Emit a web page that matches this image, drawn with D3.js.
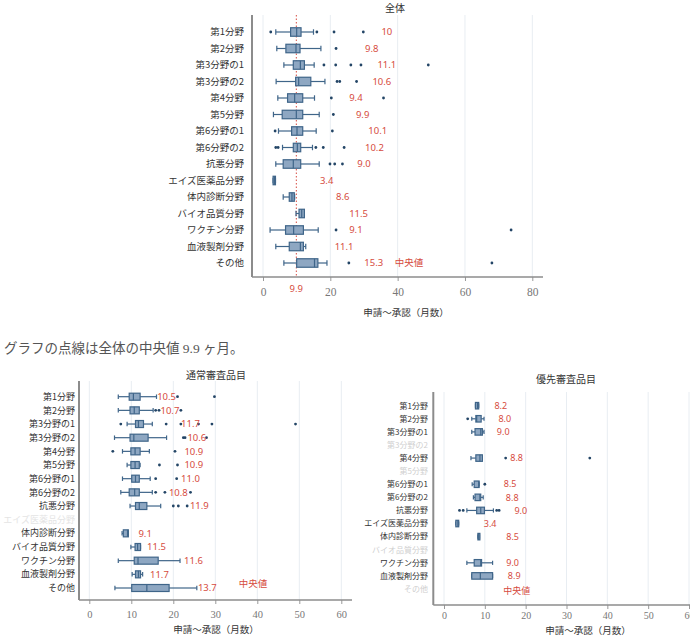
<!DOCTYPE html>
<html>
<head>
<meta charset="utf-8">
<script src="https://cdn.jsdelivr.net/npm/d3@7"></script>
<style>
  body { margin: 0; background: #fff; }
  svg { display: block; }
  .cat { font-family: "Noto Sans CJK JP", "Noto Sans", sans-serif; fill: #333; }
  .val { font-family: "Noto Sans", "Noto Sans CJK JP", sans-serif; fill: #d64b40; }
  .tick-label { font-family: "Liberation Serif", "DejaVu Serif", serif; fill: #777; }
  .ttl { font-family: "Noto Sans CJK JP", sans-serif; fill: #333; }
</style>
</head>
<body>
<svg id="chart" width="690" height="637"></svg>
<script>
const categories = ["第1分野", "第2分野", "第3分野の1", "第3分野の2", "第4分野", "第5分野",
  "第6分野の1", "第6分野の2", "抗悪分野", "エイズ医薬品分野", "体内診断分野",
  "バイオ品質分野", "ワクチン分野", "血液製剤分野", "その他"];

// 全体 (months); null = no data for that category
const allLow    = [3.8, 4.1, 6.2, 3.9, 4.4, 3.1, 4.6, 5.8, 3.8, 3.0, 6.0, 9.8, 2.1, 3.8, 6.2];
const allQ1     = [8.2, 6.8, 9.0, 9.7, 7.3, 5.7, 8.5, 9.0, 6.0, 3.0, 7.8, 10.7, 6.7, 7.8, 10.0];
const allMedian = [10, 9.8, 11.1, 10.6, 9.4, 9.9, 10.1, 10.2, 9.0, 3.4, 8.6, 11.5, 9.1, 11.1, 15.3];
const allQ3     = [11.3, 11.0, 12.3, 14.2, 11.8, 11.8, 11.8, 11.2, 11.2, 3.7, 9.3, 12.3, 12.0, 12.0, 16.3];
const allHigh   = [15.0, 17.2, 15.2, 18.4, 15.3, 16.7, 15.8, 14.7, 16.7, 3.7, 9.4, 12.3, 16.4, 12.7, 19.0];
const allOutliers = [[2.3, 16.0, 21.1, 29.8], [21.7], [18.1, 21.6, 26.1, 29.1, 49.1],
  [22.0, 22.8, 27.8], [20.3, 35.8], [20.9], [3.6, 20.6], [3.8, 4.5, 15.7, 17.9, 24.1],
  [19.9, 21.3, 23.6], [], [], [], [21.7, 73.7], [], [25.5, 68.0]];
const allLabels = ["10", "9.8", "11.1", "10.6", "9.4", "9.9", "10.1", "10.2", "9.0",
  "3.4", "8.6", "11.5", "9.1", "11.1", "15.3"];
const allOverallMedian = 9.9;

// 通常審査品目
const stdLow    = [6.9, 6.9, 9.0, 6.0, 7.9, 9.0, 7.9, 7.5, 9.7, null, 7.8, 9.9, 6.9, 10.2, 6.1];
const stdQ1     = [9.5, 9.7, 11.0, 9.7, 9.9, 9.9, 10.1, 9.5, 11.0, null, 8.1, 10.9, 10.7, 11.0, 10.1];
const stdMedian = [10.5, 10.7, 11.7, 10.6, 10.9, 10.9, 11.0, 10.8, 11.9, null, 9.1, 11.5, 11.6, 11.7, 13.7];
const stdQ3     = [12.1, 11.9, 12.9, 14.0, 12.1, 11.9, 11.9, 11.9, 13.7, null, 9.3, 12.2, 16.4, 12.2, 19.0];
const stdHigh   = [16.0, 15.2, 15.0, 18.4, 14.3, 12.1, 14.5, 15.0, 17.0, null, 9.3, 12.2, 21.6, 12.7, 25.6];
const stdOutliers = [[21.0, 29.8], [15.8, 16.6, 21.8], [7.5, 18.3, 21.8, 26.0, 29.2, 49.1],
  [22.4, 22.8, 27.9], [5.6, 20.4], [16.7, 21.0], [15.8, 20.8], [15.8, 18.0, 24.1],
  [20.0, 21.2, 23.3], [], [], [], [], [], []];
const stdLabels = ["10.5", "10.7", "11.7", "10.6", "10.9", "10.9", "11.0", "10.8", "11.9",
  null, "9.1", "11.5", "11.6", "11.7", "13.7"];

// 優先審査品目
const priLow    = [7.7, 6.8, 6.8, null, 6.6, null, 6.9, 7.2, 5.6, 2.9, 8.3, null, 5.6, 6.8, null];
const priQ1     = [7.7, 7.8, 7.6, null, 7.8, null, 7.4, 7.6, 8.0, 2.9, 8.3, null, 7.4, 6.8, null];
const priMedian = [8.2, 8.0, 9.0, null, 8.8, null, 8.5, 8.8, 9.0, 3.4, 8.5, null, 9.0, 8.9, null];
const priQ3     = [8.5, 9.1, 9.4, null, 9.4, null, 8.6, 9.0, 9.9, 3.6, 8.7, null, 9.2, 11.9, null];
const priHigh   = [8.5, 9.8, 9.8, null, 9.4, null, 8.6, 9.6, 12.1, 3.6, 8.7, null, 11.9, 11.9, null];
const priOutliers = [[], [5.8], [], [], [15.1, 35.7], [], [10.0], [], [3.8, 4.7, 12.9, 13.5],
  [], [], [], [], [], []];
const priLabels = ["8.2", "8.0", "9.0", null, "8.8", null, "8.5", "8.8", "9.0",
  "3.4", "8.5", null, "9.0", "8.9", null];

// where each median label sits along the x axis (in months)
const allLabelAt = [36.8, 32.3, 36.8, 35.3, 27.6, 29.6, 34.1, 33.1, 30.0, 18.9, 23.7, 28.4, 27.6, 24.1, 32.9];
const stdLabelAt = [18.4, 19.2, 24.1, 25.6, 24.9, 24.9, 24.1, 21.2, 26.2, null, 13.3, 16.0, 24.8, 16.7, 28.1];
const priLabelAt = [13.9, 14.9, 14.5, null, 17.8, null, 16.2, 16.7, 18.8, 11.3, 16.8, null, 16.8, 17.2, null];

const svg = d3.select("#chart");

function drawPanel(p) {
  const g = svg.append("g");
  const x = d3.scaleLinear().domain(p.domain).range(p.xRange);
  const y = d3.scalePoint().domain(categories).range(p.yRange);

  // grid
  g.selectAll(".grid")
    .data(p.ticks)
    .enter()
    .append("line")
    .attr("x1", (d) => x(d)).attr("x2", (d) => x(d))
    .attr("y1", p.top).attr("y2", p.axisY)
    .attr("stroke", "#e8edf2").attr("stroke-width", 1);

  // x axis
  const axis = g.append("g")
    .attr("transform", `translate(0,${p.axisY})`)
    .call(d3.axisBottom(x).tickValues(p.ticks).tickSize(4).tickPadding(p.tickPad));
  axis.select(".domain").remove();
  axis.selectAll(".tick line").attr("stroke", "#999");
  axis.selectAll(".tick text")
    .attr("class", "tick-label")
    .attr("font-size", p.tickFont)
    .style("font-family", '"Liberation Serif", "DejaVu Serif", serif')
    .attr("fill", "#777");

  g.append("line")
    .attr("x1", p.left).attr("x2", p.right)
    .attr("y1", p.axisY).attr("y2", p.axisY)
    .attr("stroke", "#8c8c8c").attr("stroke-width", 1.5);
  g.append("line")
    .attr("x1", p.left).attr("x2", p.left)
    .attr("y1", p.top).attr("y2", p.axisY)
    .attr("stroke", "#8c8c8c").attr("stroke-width", 2);

  // overall median reference
  if (p.refLine != null) {
    g.append("line")
      .attr("x1", x(p.refLine)).attr("x2", x(p.refLine))
      .attr("y1", p.top).attr("y2", p.axisY)
      .attr("stroke", "#d64b40").attr("stroke-width", 1)
      .attr("stroke-dasharray", "1.5,2");
    g.append("text")
      .attr("class", "val")
      .attr("x", x(p.refLine)).attr("y", p.axisY + 15)
      .attr("text-anchor", "middle")
      .attr("font-size", 9.5)
      .text(p.refLine);
  }

  // category labels
  g.selectAll(".cat")
    .data(categories)
    .enter()
    .append("text")
    .attr("class", "cat")
    .attr("x", p.labelX)
    .attr("y", (d) => y(d))
    .attr("dy", "0.35em")
    .attr("text-anchor", "end")
    .attr("font-size", p.catFont)
    .style("fill", (d, i) => (p.median[i] == null ? p.emptyColor : "#333"))
    .text((d) => d);

  const rows = categories
    .map((c, i) => ({
      c, lo: p.low[i], q1: p.q1[i], med: p.median[i], q3: p.q3[i], hi: p.high[i],
      out: p.outliers[i], label: p.labels[i], at: p.labelAt[i],
    }))
    .filter((r) => r.med != null);

  const bh = p.boxH;
  const row = g.selectAll(".row").data(rows).enter().append("g")
    .attr("transform", (r) => `translate(0,${y(r.c)})`);

  const stroke = "#3f6589";
  row.append("line")
    .attr("x1", (r) => x(r.lo)).attr("x2", (r) => x(r.q1))
    .attr("stroke", stroke).attr("stroke-width", 1.2);
  row.append("line")
    .attr("x1", (r) => x(r.q3)).attr("x2", (r) => x(r.hi))
    .attr("stroke", stroke).attr("stroke-width", 1.2);
  row.append("line")
    .attr("x1", (r) => x(r.lo)).attr("x2", (r) => x(r.lo))
    .attr("y1", -bh * 0.32).attr("y2", bh * 0.32)
    .attr("stroke", stroke).attr("stroke-width", 1.2);
  row.append("line")
    .attr("x1", (r) => x(r.hi)).attr("x2", (r) => x(r.hi))
    .attr("y1", -bh * 0.32).attr("y2", bh * 0.32)
    .attr("stroke", stroke).attr("stroke-width", 1.2);
  row.append("rect")
    .attr("x", (r) => x(r.q1))
    .attr("y", -bh / 2)
    .attr("width", (r) => Math.max(x(r.q3) - x(r.q1), 2))
    .attr("height", bh)
    .attr("fill", "#8ea7c2")
    .attr("stroke", stroke).attr("stroke-width", 1.2);
  row.append("line")
    .attr("x1", (r) => x(r.med)).attr("x2", (r) => x(r.med))
    .attr("y1", -bh / 2).attr("y2", bh / 2)
    .attr("stroke", stroke).attr("stroke-width", 1.2);
  row.selectAll("circle")
    .data((r) => r.out)
    .enter()
    .append("circle")
    .attr("cx", (d) => x(d)).attr("cy", 0)
    .attr("r", 1.4)
    .attr("fill", "#234566");
  row.append("text")
    .attr("class", "val")
    .attr("x", (r) => x(r.at))
    .attr("dy", "0.35em")
    .attr("text-anchor", "middle")
    .attr("font-size", p.valFont)
    .text((r) => r.label);

  // legend-like note
  g.append("text")
    .attr("class", "val")
    .attr("x", x(p.noteAt))
    .attr("y", y("その他") + p.noteDy)
    .attr("dy", "0.35em")
    .attr("text-anchor", "middle")
    .attr("font-size", p.valFont)
    .text("中央値");

  g.append("text")
    .attr("class", "ttl")
    .attr("x", p.titleX).attr("y", p.titleY)
    .attr("dy", "0.35em")
    .attr("text-anchor", "middle")
    .attr("font-size", p.titleFont)
    .text(p.title);

  g.append("text")
    .attr("class", "ttl")
    .attr("x", p.xTitleX).attr("y", p.xTitleY)
    .attr("dy", "0.35em")
    .attr("text-anchor", "middle")
    .attr("font-size", 9.5)
    .text("申請〜承認（月数）");
}

drawPanel({
  title: "全体", titleX: 395, titleY: 8, titleFont: 10,
  domain: [0, 80], xRange: [263, 532.3], ticks: [0, 20, 40, 60, 80],
  yRange: [32, 263], top: 15, axisY: 277, left: 252, right: 543,
  labelX: 244, catFont: 9.5, valFont: 9.5, tickFont: 11.5, tickPad: 7, boxH: 8.5,
  low: allLow, q1: allQ1, median: allMedian, q3: allQ3, high: allHigh,
  outliers: allOutliers, labels: allLabels, labelAt: allLabelAt,
  refLine: allOverallMedian, emptyColor: "#ddd",
  noteAt: 43.4, noteDy: 0, xTitleX: 406, xTitleY: 313,
});

drawPanel({
  title: "通常審査品目", titleX: 216, titleY: 375, titleFont: 10,
  domain: [0, 60], xRange: [89.3, 341.3], ticks: [0, 10, 20, 30, 40, 50, 60],
  yRange: [396.7, 588], top: 381, axisY: 600, left: 79, right: 352,
  labelX: 75, catFont: 9, valFont: 9.5, tickFont: 10.5, tickPad: 7, boxH: 7,
  low: stdLow, q1: stdQ1, median: stdMedian, q3: stdQ3, high: stdHigh,
  outliers: stdOutliers, labels: stdLabels, labelAt: stdLabelAt,
  refLine: null, emptyColor: "#e4e4e4",
  noteAt: 39.0, noteDy: -4, xTitleX: 216, xTitleY: 630,
});

drawPanel({
  title: "優先審査品目", titleX: 566, titleY: 379, titleFont: 10,
  domain: [0, 60], xRange: [444, 689], ticks: [0, 10, 20, 30, 40, 50, 60],
  yRange: [405.7, 589], top: 392, axisY: 605, left: 433.3, right: 690,
  labelX: 428, catFont: 8, valFont: 9, tickFont: 10, tickPad: 3, boxH: 6.5,
  low: priLow, q1: priQ1, median: priMedian, q3: priQ3, high: priHigh,
  outliers: priOutliers, labels: priLabels, labelAt: priLabelAt,
  refLine: null, emptyColor: "#cfcfcf",
  noteAt: 17.8, noteDy: 1.5, xTitleX: 588, xTitleY: 631,
});

svg.append("text")
  .attr("x", 4).attr("y", 348)
  .attr("dy", "0.35em")
  .attr("font-size", 13.5)
  .style("font-family", '"Liberation Serif", "Noto Sans CJK JP", serif')
  .attr("fill", "#555")
  .text("グラフの点線は全体の中央値 9.9 ヶ月。");
</script>
</body>
</html>
